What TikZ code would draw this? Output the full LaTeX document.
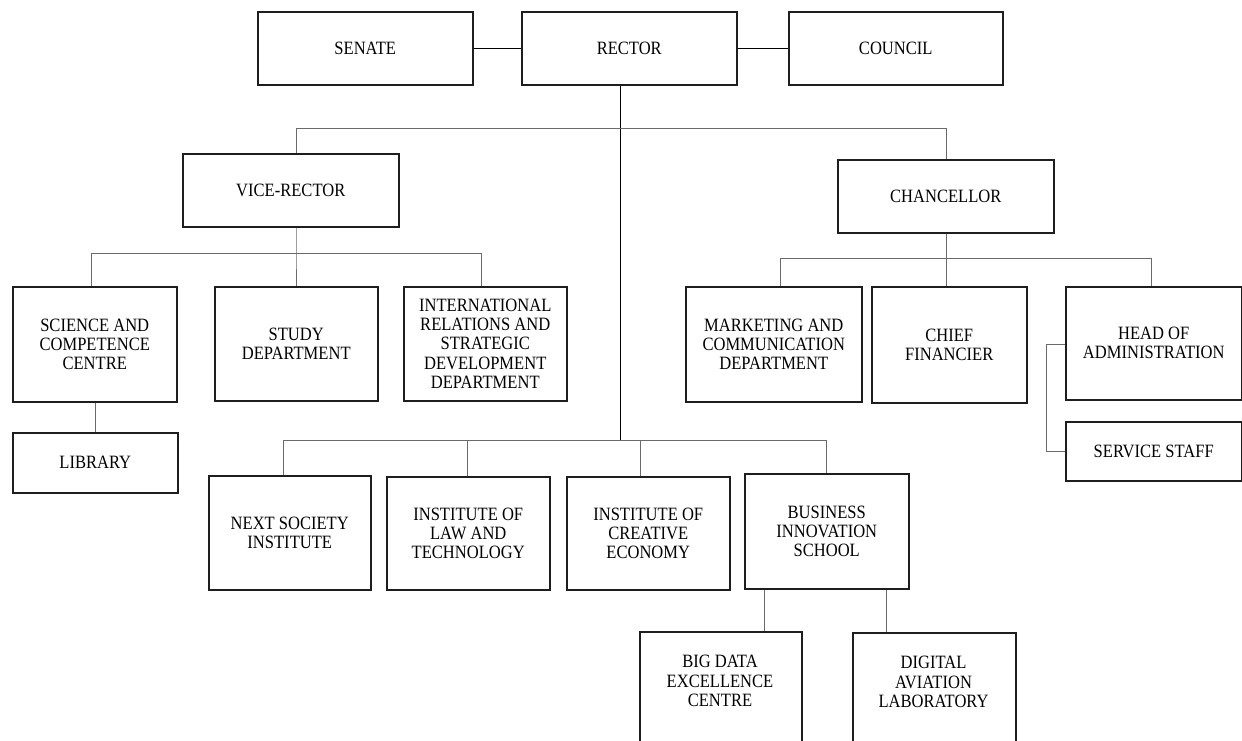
\documentclass[tikz,border=0pt]{standalone}
\usepackage{fontspec}
\setmainfont[FakeStretch=0.88]{Liberation Serif}
\definecolor{boxc}{HTML}{1E1E1E}
\definecolor{linkc}{HTML}{6A6A6A}
\begin{document}
\begin{tikzpicture}[x=1pt,y=-1pt,
  txt/.style={align=center, inner sep=0pt, font=\fontsize{18.8}{19.2}\selectfont},
  box/.style={txt, draw=boxc, line width=1.5pt, fill=white, anchor=north west},
  link/.style={draw=linkc, line width=0.9pt},
  mainlink/.style={draw=black, line width=0.9pt}]
\useasboundingbox (0,0) rectangle (1242,740);
\clip (0,0) rectangle (1242,740);

% top row
\node[box, minimum width=215pt, minimum height=73pt] (senate) at (257,11) {SENATE};
\node[box, minimum width=215pt, minimum height=73pt] (rector) at (521,11) {RECTOR};
\node[box, minimum width=214pt, minimum height=73pt] (council) at (788,11) {COUNCIL};
% second level
\node[box, minimum width=216pt, minimum height=73pt] (vicerector) at (182,153) {VICE-RECTOR};
\node[box, minimum width=216pt, minimum height=73pt] (chancellor) at (837,159) {CHANCELLOR};
% vice-rector units
\node[box, minimum width=164pt, minimum height=115pt] (science) at (12,286) {SCIENCE AND\\COMPETENCE\\CENTRE};
\node[box, minimum width=163pt, minimum height=114pt] (study) at (214,286) {STUDY\\DEPARTMENT};
\node[box, minimum width=163pt, minimum height=114pt] (intl) at (403,286) {INTERNATIONAL\\RELATIONS AND\\STRATEGIC\\DEVELOPMENT\\DEPARTMENT};
\node[box, minimum width=165pt, minimum height=60pt] (library) at (12,432) {LIBRARY};
% chancellor units
\node[box, minimum width=176pt, minimum height=115pt] (marketing) at (685,286) {MARKETING AND\\COMMUNICATION\\DEPARTMENT};
\node[box, minimum width=155pt, minimum height=116pt] (chief) at (871,286) {CHIEF\\FINANCIER};
\node[box, minimum width=176pt, minimum height=113pt] (head) at (1065,286) {HEAD OF\\ADMINISTRATION};
\node[box, minimum width=176pt, minimum height=59pt] (service) at (1065,421) {SERVICE STAFF};
% institutes
\node[box, minimum width=162pt, minimum height=114pt] (next) at (208,475) {NEXT SOCIETY\\INSTITUTE};
\node[box, minimum width=163pt, minimum height=113pt] (law) at (386,476) {INSTITUTE OF\\LAW AND\\TECHNOLOGY};
\node[box, minimum width=163pt, minimum height=113pt] (creative) at (566,476) {INSTITUTE OF\\CREATIVE\\ECONOMY};
\node[box, minimum width=164pt, minimum height=115pt] (business) at (744,473) {BUSINESS\\INNOVATION\\SCHOOL};
% business school units (cut off at the bottom)
\node[box, minimum width=162pt, minimum height=140pt] (bigdata) at (639,631) {};
\node[txt] (bigdatatext) at (720,681) {BIG DATA\\EXCELLENCE\\CENTRE};
\node[box, minimum width=163pt, minimum height=140pt] (digital) at (852,632) {};
\node[txt] (digitaltext) at (933.5,682) {DIGITAL\\AVIATION\\LABORATORY};

% helper coordinates
\coordinate (rx) at (620,0);
\coordinate (busA) at (296,128);
\coordinate (busB) at (946,128);
\coordinate (vrx) at (296,253);
\coordinate (vrL) at (91,253);
\coordinate (vrR) at (481,253);
\coordinate (chx) at (946,258);
\coordinate (chL) at (780,258);
\coordinate (chR) at (1151,258);
\coordinate (libx) at (95,0);
\coordinate (brk) at (1046,0);
\coordinate (hy) at (0,344);
\coordinate (instbus) at (620,440);
\coordinate (iL) at (283,440);
\coordinate (iR) at (826,440);
\coordinate (lawx) at (467,440);
\coordinate (crx) at (640,440);
\coordinate (b1) at (764,0);
\coordinate (b2) at (886,0);

% connectors
\draw[mainlink] (senate.east) -- (rector.west);
\draw[mainlink] (rector.east) -- (council.west);
\draw[mainlink] (rector.south -| rx) -- (instbus);
\draw[link] (vicerector.north -| busA) -- (busA) -- (busB) -- (chancellor.north -| busB);
\draw[link] (vicerector.south -| vrx) -- (vrx) -- (study.north -| vrx);
\draw[link] (science.north -| vrL) -- (vrL) -- (vrR) -- (intl.north -| vrR);
\draw[link] (science.south -| libx) -- (library.north -| libx);
\draw[link] (chancellor.south -| chx) -- (chx) -- (chief.north -| chx);
\draw[link] (marketing.north -| chL) -- (chL) -- (chR) -- (head.north -| chR);
\draw[link] (head.west |- hy) -- (brk |- hy) -- (brk |- service.west) -- (service.west);
\draw[link] (next.north -| iL) -- (iL) -- (iR) -- (business.north -| iR);
\draw[link] (lawx) -- (law.north -| lawx);
\draw[link] (crx) -- (creative.north -| crx);
\draw[link] (business.south -| b1) -- (bigdata.north -| b1);
\draw[link] (business.south -| b2) -- (digital.north -| b2);
\end{tikzpicture}
\end{document}
